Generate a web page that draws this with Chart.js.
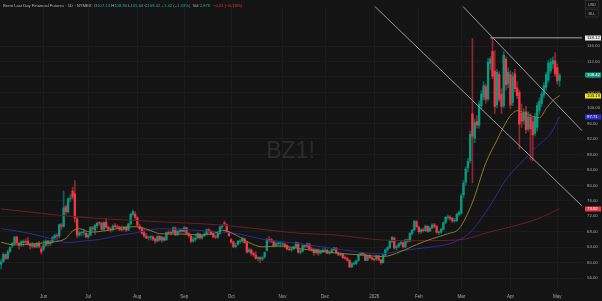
<!DOCTYPE html>
<html>
<head>
<meta charset="utf-8">
<script src="https://cdn.jsdelivr.net/npm/chart.js@4.4.1/dist/chart.umd.min.js"></script>
<style>
  html, body { margin: 0; padding: 0; background: #141414; }
  canvas { display: block; }
</style>
</head>
<body>
<canvas id="chart" width="602" height="301"></canvas>
<script>
/* ── data: BZ1! daily candles, 5 May 2025 → 4 May 2026 ── */
const START_DATE = "2025-05-05";
const HOLIDAYS = ["2025-05-26", "2025-06-19", "2025-07-04", "2025-09-01", "2025-11-27",
                  "2025-12-25", "2026-01-01", "2026-01-19", "2026-02-16", "2026-04-03"];
const N_SLOTS = 261;   // 251 candles + empty space on the right

const OPEN = [
  59.6,60.3,62.1,61.2,62.9,64.5,65.0,66.6,65.0,64.6,65.2,65.5,65.6,64.8,64.2,64.8,64.2,65.0,63.6,
  63.5,64.6,65.6,64.9,65.3,66.5,67.0,66.9,69.8,69.4,74.5,73.2,76.5,78.5,77.8,71.3,67.2,67.7,67.8,67.6,
  66.7,67.1,69.0,68.4,69.6,70.3,70.2,68.7,70.5,69.2,68.7,68.6,69.6,69.3,69.2,68.6,68.6,69.2,68.5,70.0,72.5,72.6,
  71.6,69.4,68.8,67.8,66.9,66.5,66.6,66.6,66.2,65.6,66.8,65.8,66.5,65.9,67.8,67.8,67.8,69.0,67.3,68.1,68.5,
  68.0,69.0,67.5,66.9,65.6,66.0,66.5,67.4,66.4,67.0,67.4,68.5,68.2,67.4,66.7,66.6,67.6,69.3,70.3,69.8,67.9,
  66.0,65.4,64.2,64.8,65.5,65.6,66.2,65.2,62.9,63.3,62.4,62.0,61.1,61.3,61.0,61.5,63.2,66.0,66.0,65.5,64.4,64.9,65.0,
  64.8,64.8,64.4,63.5,63.4,63.6,64.1,65.1,62.7,63.0,64.4,64.2,64.8,63.5,63.4,62.6,63.4,62.5,63.1,
  63.0,63.2,62.5,62.7,63.3,63.8,62.5,62.0,62.2,61.3,61.1,60.6,58.9,59.7,59.8,60.6,62.1,62.4,62.2,60.6,61.9,61.3,
  60.9,61.0,61.8,60.7,60.0,62.0,63.4,63.9,65.5,66.4,63.8,64.2,64.9,65.2,64.1,65.9,65.6,67.6,68.5,70.6,
  69.2,68.0,68.5,68.3,69.4,68.2,69.0,69.8,69.4,67.8,67.9,68.6,70.4,71.7,71.8,71.5,70.8,70.9,72.5,
  72.8,77.5,80.8,84.5,86.4,98.5,92.2,96.5,95.5,100.6,102.8,105.5,102.4,111.5,114.6,109.5,100.8,108.6,103.6,100.6,112.6,106.2,
  108.6,101.4,108.8,105.2,104.0,98.6,96.8,99.0,94.6,97.6,96.4,93.4,95.0,99.4,101.2,103.4,105.4,107.2,109.6,111.4,112.2,
  110.4,107.13,
];
const HIGH = [
  60.9,62.6,62.3,63.3,64.1,65.2,66.8,66.9,65.4,65.7,65.9,66.2,66.5,65.0,65.2,65.0,65.2,65.5,64.2,
  65.7,65.9,65.8,65.8,66.8,67.4,67.5,70.0,70.2,78.5,74.9,76.8,77.6,79.5,81.2,71.8,68.2,68.1,68.6,68.1,
  67.6,69.4,69.4,70.0,70.5,70.6,70.5,70.6,71.5,69.5,69.1,69.8,70.2,69.8,69.5,69.5,69.4,69.5,70.2,72.7,73.6,73.2,
  71.9,69.9,69.2,68.6,67.6,66.9,67.0,67.0,66.4,67.0,67.0,66.8,66.7,68.0,68.3,68.2,69.2,69.3,68.3,68.8,68.8,
  69.4,69.2,67.8,67.2,66.6,67.3,67.8,67.6,67.2,67.7,68.7,68.8,68.4,67.7,67.2,67.8,69.5,69.9,70.8,70.0,68.0,
  66.3,65.6,65.0,65.8,66.0,66.6,66.4,65.5,63.8,63.6,62.8,62.9,61.6,61.5,61.6,62.8,66.3,66.8,66.3,65.6,65.4,65.3,65.4,
  65.2,65.0,64.7,64.0,64.0,64.3,65.4,65.3,63.4,64.8,64.6,65.1,65.0,64.0,63.7,63.6,63.6,63.3,63.6,
  64.0,63.5,63.0,63.6,64.0,63.9,62.8,62.6,62.4,61.8,61.4,60.8,60.1,60.2,60.6,62.3,62.6,62.5,62.3,62.1,62.1,61.5,
  61.2,62.0,61.9,60.9,62.2,63.5,64.2,65.7,66.8,66.6,64.5,65.2,65.6,65.4,66.0,66.2,67.8,68.6,71.0,70.9,
  69.5,68.8,69.0,69.8,69.6,69.3,70.1,70.2,69.6,68.2,68.9,70.6,71.9,72.4,72.2,71.7,71.4,72.8,73.4,
  77.8,81.2,84.8,87.0,94.0,117.9,97.2,98.0,101.8,104.5,106.8,106.2,112.8,113.2,118.12,114.8,110.0,109.4,105.0,114.6,113.2,110.4,
  109.6,109.2,110.0,106.8,104.6,101.0,99.8,100.4,99.0,98.6,97.6,98.6,101.4,102.6,104.2,106.6,109.2,112.4,112.8,113.2,114.3,
  111.4,108.96,
];
const LOW = [
  58.4,60.1,60.8,60.9,62.6,63.9,64.6,64.9,63.5,64.2,64.3,64.9,64.6,63.5,63.8,63.8,63.9,63.8,62.2,
  63.1,64.2,64.3,64.4,65.1,65.9,66.1,66.4,68.5,69.2,72.5,72.8,75.8,76.5,70.5,66.4,66.8,66.9,67.2,66.5,
  66.3,66.9,68.3,67.3,69.0,69.7,68.4,68.4,68.9,68.4,67.9,68.2,68.9,68.9,68.2,68.2,68.4,68.1,68.3,69.8,72.2,71.2,
  69.3,68.5,67.4,66.5,66.2,65.8,65.9,65.7,65.0,65.5,65.6,65.3,65.6,65.8,67.3,67.1,67.6,67.0,67.0,67.7,67.9,
  67.8,67.3,66.6,65.1,65.3,65.5,66.2,66.1,66.1,66.8,67.2,67.6,67.2,66.5,66.2,66.3,67.4,68.8,69.6,67.8,66.8,
  65.0,63.9,63.8,64.5,65.0,65.3,65.0,62.5,62.6,61.9,61.6,60.9,60.4,60.1,60.5,61.2,63.0,65.3,65.2,64.0,64.2,64.4,64.2,
  64.2,63.9,63.3,63.1,62.9,63.3,63.8,62.5,62.2,62.8,63.8,63.9,63.2,62.9,61.9,62.3,61.9,62.3,62.6,
  62.7,62.3,62.2,62.5,63.1,62.4,61.8,61.7,61.1,60.9,60.4,58.7,58.8,59.4,59.5,60.4,61.8,61.9,60.5,60.5,61.1,60.7,
  60.4,60.6,60.5,59.6,59.9,61.8,63.0,63.6,65.2,63.5,63.4,63.9,64.5,63.8,63.9,65.1,65.4,67.2,68.2,69.0,
  67.6,67.5,67.9,68.1,67.8,68.0,68.8,69.0,67.6,67.3,67.6,68.4,70.1,71.2,71.0,70.4,70.5,70.6,72.0,
  72.5,76.8,80.0,83.5,85.8,80.7,91.0,94.8,94.8,99.8,102.0,101.2,101.8,109.8,107.6,98.6,100.0,101.6,98.6,100.0,104.6,105.2,
  99.8,100.6,104.2,102.4,89.4,95.0,95.8,93.4,94.0,86.6,86.3,92.8,94.0,98.6,100.4,102.6,104.6,106.6,109.0,110.2,108.2,
  106.2,105.66,
];
const CLOSE = [
  60.2,62.2,61.1,62.8,63.9,65.0,66.6,65.1,64.5,65.4,65.5,65.4,64.9,64.4,64.8,64.1,64.9,64.2,62.8,
  64.6,65.6,64.9,65.3,66.5,67.0,66.9,69.8,69.4,74.2,73.2,76.5,76.7,77.0,71.5,67.1,67.7,67.7,67.8,66.7,
  67.1,69.1,68.8,69.6,70.2,70.2,68.6,70.4,69.2,68.7,68.5,69.5,69.3,69.2,68.6,68.5,69.2,68.4,70.0,72.5,73.2,71.7,
  69.7,68.8,67.6,66.9,66.4,66.6,66.7,66.1,65.6,66.8,65.9,66.6,65.8,67.8,67.7,67.7,69.0,67.2,68.1,68.6,68.1,
  69.1,67.6,67.0,65.5,66.0,66.4,67.5,66.4,67.0,67.4,68.5,68.2,67.4,66.7,66.6,67.6,69.3,69.4,70.1,68.0,67.0,
  65.4,64.1,64.5,65.5,65.6,66.3,65.2,62.7,63.3,62.4,62.0,61.1,61.3,61.0,61.3,62.6,66.0,65.9,65.6,64.4,64.9,65.0,65.1,
  64.9,64.4,63.5,63.4,63.6,64.1,65.2,62.7,63.0,64.4,64.2,64.9,63.5,63.4,62.6,63.4,62.5,63.1,63.2,
  63.2,62.5,62.7,63.3,63.8,62.5,62.0,62.2,61.3,61.1,60.6,58.9,59.7,59.8,60.5,62.1,62.4,62.2,60.6,61.9,61.3,60.9,
  60.8,61.8,60.7,60.0,62.0,63.3,63.9,65.5,66.5,63.8,64.1,64.9,65.2,64.1,65.9,65.6,67.6,68.4,70.7,69.3,
  68.0,68.5,68.3,69.5,68.1,69.0,69.8,69.4,67.8,67.9,68.6,70.4,71.7,71.8,71.5,70.8,70.9,72.5,73.0,
  77.3,80.6,84.2,86.2,93.2,92.7,96.2,95.6,101.0,103.6,105.8,102.2,111.8,112.6,108.2,100.4,109.2,102.2,100.4,113.6,106.0,109.2,
  100.8,108.2,105.0,103.2,95.8,96.6,98.6,94.4,97.8,94.6,93.0,97.8,100.6,101.8,103.6,105.8,108.6,111.6,111.8,112.4,108.8,
  107.0,108.42,
];

/* moving averages: [bar index, value] */
const MA20 = [[0,65.3],[6,64.6],[15,64.9],[22,65.3],[26,65.6],[29,66.3],[32,68.2],[35,68.8],[40,67.9],[47,68.3],
  [53,68.9],[59,69.3],[62,69.2],[67,68.3],[71,67.5],[81,67.4],[90,67.2],[97,67.9],[99,68.4],[106,66.9],[111,65.2],
  [117,64.1],[124,64.3],[129,64.1],[134,63.6],[152,62.4],[161,62.0],[171,61.6],[179,62.9],[186,64.7],[193,66.2],
  [200,67.5],[205,68.8],[211,75.6],[217,85.8],[222,91.7],[225,95.2],[228,98.0],[231,99.3],[234,98.8],[238,97.8],
  [241,97.5],[244,99.8],[247,101.9],[250,103.19]];
const MA50 = [[0,68.8],[9,68.0],[17,67.0],[25,65.8],[29,65.2],[37,65.6],[44,66.0],[52,67.0],[59,67.6],[67,68.5],
  [71,68.8],[81,68.6],[97,68.0],[106,67.5],[116,66.2],[126,65.4],[134,64.9],[152,63.4],[164,62.5],[171,62.4],
  [179,63.1],[186,63.6],[193,64.1],[201,64.9],[205,65.9],[210,67.8],[219,74.9],[226,81.5],[234,86.6],[240,90.1],
  [246,93.4],[250,97.71]];
const MA200 = [[0,73.9],[35,71.8],[67,70.7],[97,69.8],[111,69.0],[134,67.6],[149,67.2],[170,65.9],[188,65.7],
  [205,65.9],[219,68.0],[231,69.7],[240,71.3],[250,73.92]];

/* drawings (they start above the visible range and get clipped) */
const UPPER_TREND = [[195,133.3],[260,94.15]];
const LOWER_TREND = [[160,130.3],[260,74.71]];
const HIGH_LINE   = [[219,118.12],[260,118.12]];

/* axis */
const Y_MIN = 52.95, Y_MAX = 126.2;
const Y_TICKS = [56,60,64,68,72,76,80,84,88,92,96,100,104,108,112,116];
const MONTH_LABELS = ["Jun","Jul","Aug","Sep","Oct","Nov","Dec","2026","Feb","Mar","Apr","May"];

/* right-edge price tags */
const TAG_VALUES = [118.12, 108.42, 103.19, 97.71, 73.92];

const SYMBOL = "BZ1!";
const TITLE = [
  ["Brent Last Day Financial Futures · 1D · NYMEX", "#b2b5be"],
  ["  O", "#b2b5be"], ["107.13", "#22ab94"],
  [" H", "#b2b5be"], ["108.96", "#22ab94"],
  [" L", "#b2b5be"], ["105.66", "#22ab94"],
  [" C", "#b2b5be"], ["108.42", "#22ab94"],
  [" +1.42 (+1.33%)", "#22ab94"],
  ["  Vol", "#b2b5be"], [" 2.87K", "#22ab94"],
  ["  −0.21 (−0.19%)", "#f23645"],
];

/* ── palette ── */
const GRID      = "#1c1c1c";
const AXIS_TEXT = "#a3a6af";
const UP        = "#089981";
const DOWN      = "#f23645";
const UP_WICK   = "rgba(8,153,129,0.6)";
const DOWN_WICK = "rgba(242,54,69,0.55)";
const TAG_BG    = ["#e8e8e8", "#089981", "#f2e21a", "#2f2fd6", "#e8394a"];
const TAG_FG    = ["#111111", "#ffffff", "#111111", "#ffffff", "#ffffff"];
const FONT      = "'Liberation Sans', Arial, sans-serif";

Chart.defaults.font.family = FONT;

/* ── helpers ── */
function tradingDays(start, count) {
  const out = [];
  const d = new Date(start + "T00:00:00Z");
  while (out.length < count) {
    const iso = d.toISOString().slice(0, 10);
    const wd = d.getUTCDay();
    if (wd !== 0 && wd !== 6 && !HOLIDAYS.includes(iso)) out.push(iso);
    d.setUTCDate(d.getUTCDate() + 1);
  }
  return out;
}

function sparse(pts) {
  const arr = new Array(N_SLOTS).fill(null);
  pts.forEach(([i, v]) => { arr[i] = v; });
  return arr;
}

function lineDs(pts, color, order, smooth) {
  return {
    type: "line",
    data: sparse(pts),
    borderColor: color,
    borderWidth: 1,
    pointRadius: 0,
    spanGaps: true,
    cubicInterpolationMode: smooth ? "monotone" : "default",
    tension: 0,
    order,
  };
}

const labels = tradingDays(START_DATE, N_SLOTS);
const monthStarts = labels
  .map((d, i) => (i > 0 && d.slice(5, 7) !== labels[i - 1].slice(5, 7) ? i : -1))
  .filter(i => i >= 0);

const isUp = CLOSE.map((c, i) => c >= OPEN[i]);

/* ── overlay: watermark, title, price tags ── */
const overlay = {
  id: "overlay",
  beforeDatasetsDraw(chart) {
    const { ctx, chartArea: a } = chart;
    ctx.save();
    ctx.font = `23px ${FONT}`;
    ctx.fillStyle = "#2c2c2c";
    ctx.textAlign = "center";
    ctx.textBaseline = "middle";
    ctx.fillText(SYMBOL, (a.left + a.right) / 2 - 1, (a.top + a.bottom) / 2 + 3);
    ctx.restore();
  },
  afterDraw(chart) {
    const { ctx, chartArea: a, scales } = chart;
    ctx.save();

    // title line
    ctx.font = `4.2px ${FONT}`;
    ctx.textAlign = "left";
    ctx.textBaseline = "middle";
    let x = 3;
    TITLE.forEach(([txt, col]) => {
      ctx.fillStyle = col;
      ctx.fillText(txt, x, 5.5);
      x += ctx.measureText(txt).width;
    });

    // price tags
    ctx.font = `4.3px ${FONT}`;
    TAG_VALUES.forEach((v, k) => {
      const py = Math.round(scales.y.getPixelForValue(v));
      ctx.fillStyle = TAG_BG[k];
      ctx.fillRect(a.right + 2, py - 2.5, 16, 5);
      ctx.fillStyle = TAG_FG[k];
      ctx.fillText(v.toFixed(2), a.right + 4, py + 0.2);
    });

    // currency / unit boxes
    ctx.strokeStyle = "#3a3a3a";
    ctx.lineWidth = 0.6;
    ctx.textAlign = "center";
    ctx.font = `3.8px ${FONT}`;
    [["USD", 0.5], ["BLL", 9.5]].forEach(([t, y]) => {
      ctx.strokeRect(a.right + 2.5, y, 13, 7.5);
      ctx.fillStyle = "#b2b5be";
      ctx.fillText(t, a.right + 9, y + 4);
    });
    ctx.restore();
  },
};

/* ── chart ── */
const ctx = document.getElementById("chart").getContext("2d");
new Chart(ctx, {
  type: "bar",
  data: {
    labels,
    datasets: [
      lineDs(UPPER_TREND, "#9c9c9c", 0, false),
      lineDs(LOWER_TREND, "#9c9c9c", 0, false),
      lineDs(HIGH_LINE,   "#a8a8a8", 0, false),
      lineDs(MA20,  "#8a7e2c", 1, true),
      lineDs(MA50,  "#2c2c92", 1, true),
      lineDs(MA200, "#6a1e28", 1, true),
      {
        type: "bar",
        data: OPEN.map((o, i) => [o, CLOSE[i]]),
        backgroundColor: isUp.map(u => (u ? UP : DOWN)),
        barThickness: 1.7,
        minBarLength: 0.6,
        grouped: false,
        order: 2,
      },
      {
        type: "bar",
        data: LOW.map((l, i) => [l, HIGH[i]]),
        backgroundColor: isUp.map(u => (u ? UP_WICK : DOWN_WICK)),
        barThickness: 1,
        grouped: false,
        order: 3,
      },
    ],
  },
  options: {
    responsive: false,
    animation: false,
    devicePixelRatio: 1,
    layout: { padding: 0, autoPadding: false },
    plugins: { legend: { display: false }, tooltip: { enabled: false } },
    scales: {
      x: {
        offset: true,
        afterBuildTicks: axis => { axis.ticks = monthStarts.map(i => ({ value: i })); },
        afterFit: axis => { axis.height = 11; },
        grid: { color: GRID, offset: false, drawTicks: false },
        border: { display: false },
        ticks: {
          color: AXIS_TEXT,
          font: { size: 4.5 },
          padding: 4,
          maxRotation: 0,
          autoSkip: false,
          callback: (v, k) => MONTH_LABELS[k],
        },
      },
      y: {
        position: "right",
        min: Y_MIN,
        max: Y_MAX,
        afterBuildTicks: axis => { axis.ticks = Y_TICKS.map(v => ({ value: v })); },
        afterFit: axis => { axis.width = 19; },
        grid: { color: GRID, drawTicks: false },
        border: { display: false },
        ticks: { color: AXIS_TEXT, font: { size: 4.3 }, padding: 4, callback: v => v.toFixed(2) },
      },
    },
  },
  plugins: [overlay],
});
</script>
</body>
</html>
